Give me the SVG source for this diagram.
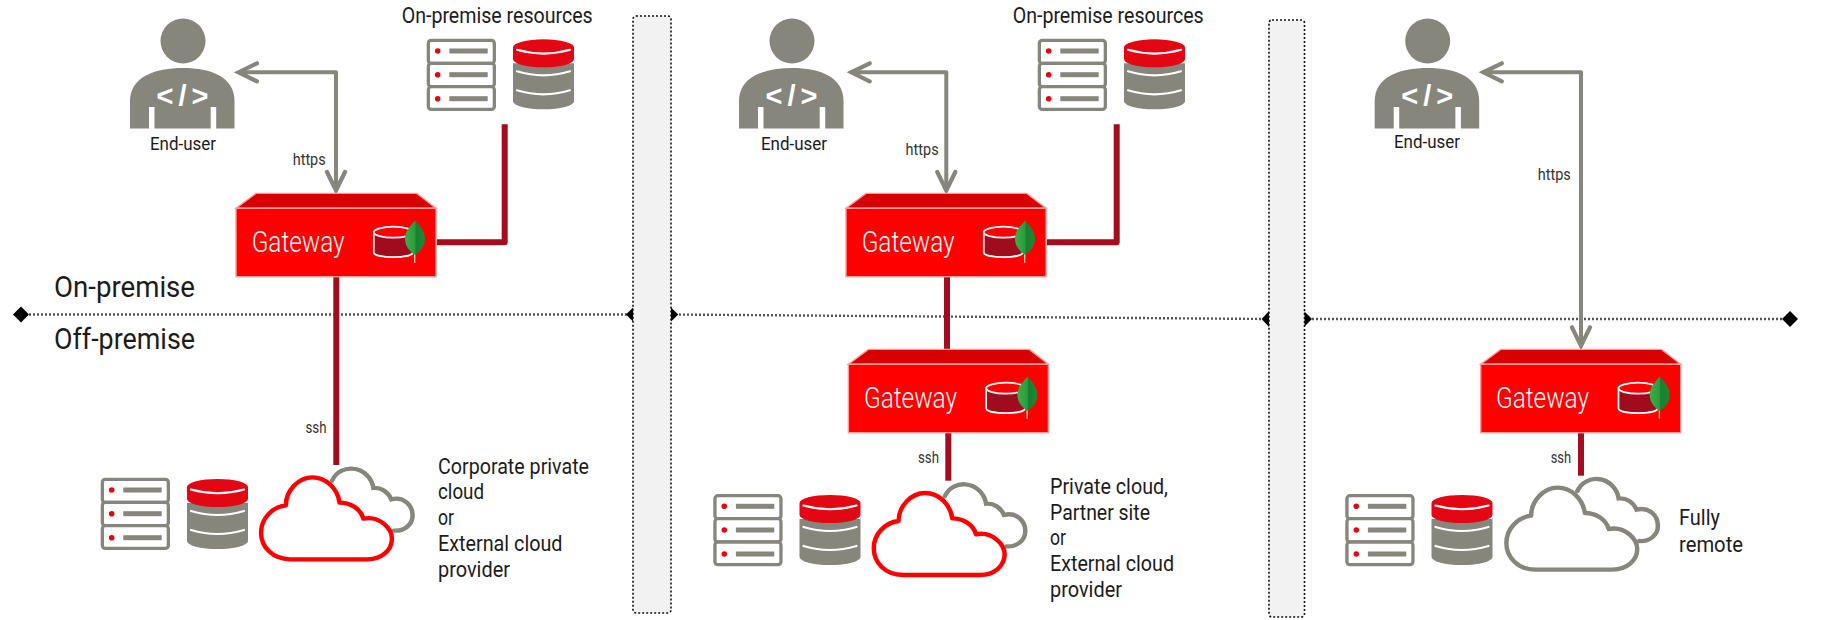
<svg xmlns="http://www.w3.org/2000/svg" width="1825" height="620" viewBox="0 0 1825 620">
<style>
text{font-family:Roboto,"Liberation Sans",sans-serif;font-weight:400;fill:#1c1c1c}
.lab{font-size:22px}
.small{font-size:18px}
.big{font-size:30px}
.proto{font-size:16px;fill:#333}
.gw{font-size:29px;fill:#fff;font-weight:300}
.code{font-family:"Liberation Sans",sans-serif;font-weight:700;font-size:29px;fill:#fff;text-anchor:middle;letter-spacing:5px}
.gray{fill:#86867c}
.arrow{fill:none;stroke:#86867c;stroke-width:4;stroke-linejoin:round;marker-start:url(#chev);marker-end:url(#chev)}
.wire{fill:none;stroke:#a30d1e;stroke-width:6;stroke-linejoin:round}
.div{fill:none;stroke:#555;stroke-width:2.400;stroke-dasharray:2 2}
.bar{fill:#f2f2f2;stroke:#111;stroke-width:1.6;stroke-dasharray:2 2}
.srow{fill:#fff;stroke:#86867c;stroke-width:3.3}
.cloudR{fill:#fff;stroke:#f00;stroke-width:13;stroke-linejoin:round}
.cloudG{fill:#fff;stroke:#86867c;stroke-width:13;stroke-linejoin:round}
.cloudB{fill:none;stroke:#86867c;stroke-width:13;stroke-linecap:round}
</style>
<defs>
<linearGradient id="leaf" x1="0" x2="1" y1="0" y2="0"><stop offset="0" stop-color="#3fae49"/><stop offset=".5" stop-color="#2a9a3e"/><stop offset=".55" stop-color="#178030"/><stop offset="1" stop-color="#1a8a34"/></linearGradient>
<marker id="chev" markerUnits="userSpaceOnUse" viewBox="-24 -13 27 26" refX="-2" refY="0" markerWidth="27" markerHeight="26" orient="auto-start-reverse"><path d="M-20 -9 L-1.5 0 L-20 9" fill="none" stroke="#86867c" stroke-width="4.2" stroke-linecap="round" stroke-linejoin="miter"/></marker>
<g id="person">
<circle cx="0" cy="0" r="22.5" class="gray"/>
<path class="gray" d="M-53 87.5 V60 C-53 36 -28 27 0 27 C28 27 51.500 36 51.500 60 V87.500 Z"/>
<rect x="-34" y="66" width="5.500" height="22" fill="#fff"/>
<rect x="27.700" y="66" width="5.500" height="22" fill="#fff"/>
</g>
<g id="servers">
<rect class="srow" x="1.650" y="1.700" width="66" height="23" rx="3"/>
<rect class="srow" x="1.650" y="24.700" width="66" height="23.300" rx="3"/>
<rect class="srow" x="1.650" y="48" width="66" height="22.700" rx="3"/>
<g fill="#e30613"><circle cx="11" cy="12.300" r="2.800"/><circle cx="11" cy="36" r="2.800"/><circle cx="11" cy="60" r="2.800"/></g>
<g class="gray"><rect x="22.600" y="9.800" width="38.400" height="5"/><rect x="22.600" y="33.500" width="38.400" height="5"/><rect x="22.600" y="57.500" width="38.400" height="5"/></g>
</g>
<g id="db">
<path class="gray" d="M0 24 V62 A30.500 8 0 0 0 61 62 V24 Z"/>
<path d="M4 32 Q30.500 40 57 32 M4 51 Q30.500 59 57 51" fill="none" stroke="#fff" stroke-width="2.200" stroke-linecap="round"/>
<path d="M0 8 A30.500 8 0 0 1 61 8 V20 A30.500 8 0 0 1 0 20 Z" fill="#e30613"/>
<path d="M4 10.500 Q30.500 18 57 10.500" fill="none" stroke="#fff" stroke-width="2.200" stroke-linecap="round"/>
</g>
<g id="box">
<path d="M.7 15.600 L20.700 .7 H181.500 L200.700 15.600 Z" fill="#d90000" stroke="#ff9a9a" stroke-width="1.400"/>
<rect x=".7" y="15.600" width="200" height="68.400" fill="#f00" stroke="#ff9a9a" stroke-width="1.400"/>
<path d="M138.500 39.500 V59.500 C138.500 66 177.500 66 177.500 59.500 V39.500 Z" fill="#a00c1e" stroke="#fff" stroke-width="1.700"/>
<ellipse cx="158" cy="39.500" rx="19.500" ry="5.500" fill="#f00" stroke="#fff" stroke-width="1.700"/>
<path d="M179.400 58 V70" stroke="#c9d8c0" stroke-width="1.300"/>
<path d="M179.700 28 C173 35 169.700 40 169.700 46 C169.700 54 175 59 179.700 62.300 C184.500 59 189.700 54 189.700 46 C189.700 40 186 34 179.700 28 Z" fill="url(#leaf)"/>
</g>
<g id="cloudback"><path class="cloudB" d="M212 16 C225 -12 250 -22 272 -20 C305 -18 328 10 332 38 C355 36 375 50 384 72 C420 62 446 90 446 120 C446 150 420 168 392 166"/></g>
<path id="cloudfront" d="M90 252 C40 252 6 215 6 172 C6 130 38 95 78 90 C78 45 115 6 155 6 C195 6 228 40 234 82 C265 82 295 100 303 130 C350 120 386 160 386 190 C386 225 355 252 315 252 Z"/>
</defs>

<g id="divider">
<path class="div" d="M21 314.500 H633"/>
<path class="div" d="M671 314.500 L1268 319"/>
<path class="div" d="M1304 319 H1790"/>
<path d="M21 306.500 L29 314.500 L21 322.500 L13 314.500 Z"/>
<path d="M634 306.500 L626 314.500 L634 322.500 Z"/>
<path d="M670 306.500 L678.300 314.500 L670 322.500 Z"/>
<path d="M1269 311 L1261.600 319 L1269 327 Z"/>
<path d="M1304 311 L1312 319 L1304 327 Z"/>
<path d="M1790 311 L1798 319 L1790 327 L1782 319 Z"/>
</g>

<g id="barrier-1"><rect class="bar" x="633" y="16" width="38" height="597" rx="3"/></g>
<g id="barrier-2"><rect class="bar" x="1269" y="20" width="35.500" height="597" rx="3"/></g>

<g id="connectors">
<path class="wire" d="M437 242.300 H504.700 V124.300"/>
<path class="wire" d="M336.300 277 V465"/>
<path class="wire" d="M1047 242.300 H1116.700 V124.300"/>
<path class="wire" d="M947 277 V349"/>
<path class="wire" d="M948.300 433 V480.700"/>
<path class="wire" d="M1581 433 V475.700"/>
<path class="arrow" d="M239 72.300 H336 V190"/>
<path class="arrow" d="M851.700 72.300 H946.300 V190"/>
<path class="arrow" d="M1483.800 72.300 H1581 V345.300"/>
</g>

<g id="zone-labels">
<text class="big" x="54" y="297" textLength="141" lengthAdjust="spacingAndGlyphs">On-premise</text>
<text class="big" x="54" y="348.500" textLength="141" lengthAdjust="spacingAndGlyphs">Off-premise</text>
</g>

<g id="end-user-1">
<use href="#person" x="183" y="41"/>
<text class="code" x="185" y="106">&lt;/&gt;</text>
<text class="small" x="150" y="150" textLength="66" lengthAdjust="spacingAndGlyphs">End-user</text>
</g>
<g id="end-user-2">
<use href="#person" x="792" y="41"/>
<text class="code" x="794" y="106">&lt;/&gt;</text>
<text class="small" x="761" y="150" textLength="66" lengthAdjust="spacingAndGlyphs">End-user</text>
</g>
<g id="end-user-3">
<use href="#person" x="1427.700" y="41"/>
<text class="code" x="1429.700" y="106">&lt;/&gt;</text>
<text class="small" x="1394" y="148" textLength="66" lengthAdjust="spacingAndGlyphs">End-user</text>
</g>

<g id="resources-1">
<text class="lab" x="401.700" y="23.300" textLength="191" lengthAdjust="spacingAndGlyphs">On-premise resources</text>
<use href="#servers" x="426.700" y="38.700"/>
<use href="#db" x="513" y="39.300"/>
</g>
<g id="resources-2">
<text class="lab" x="1012.700" y="23.300" textLength="191" lengthAdjust="spacingAndGlyphs">On-premise resources</text>
<use href="#servers" x="1037.700" y="38.700"/>
<use href="#db" x="1124" y="39.300"/>
</g>

<g id="gateway-1"><use href="#box" x="235.300" y="192.700"/><text class="gw" x="251.700" y="252" textLength="93" lengthAdjust="spacingAndGlyphs">Gateway</text></g>
<g id="gateway-2"><use href="#box" x="845.300" y="192.700"/><text class="gw" x="861.700" y="252" textLength="93" lengthAdjust="spacingAndGlyphs">Gateway</text></g>
<g id="gateway-3"><use href="#box" x="847.700" y="348.700"/><text class="gw" x="864" y="408" textLength="93" lengthAdjust="spacingAndGlyphs">Gateway</text></g>
<g id="gateway-4"><use href="#box" x="1480" y="348.700"/><text class="gw" x="1496" y="408" textLength="93" lengthAdjust="spacingAndGlyphs">Gateway</text></g>

<g id="protocol-labels">
<text class="proto" x="292.700" y="165" textLength="33" lengthAdjust="spacingAndGlyphs">https</text>
<text class="proto" x="905.600" y="155" textLength="33" lengthAdjust="spacingAndGlyphs">https</text>
<text class="proto" x="1537.800" y="180" textLength="33" lengthAdjust="spacingAndGlyphs">https</text>
<text class="proto" x="305.500" y="433.300" textLength="21" lengthAdjust="spacingAndGlyphs">ssh</text>
<text class="proto" x="918" y="463.300" textLength="21" lengthAdjust="spacingAndGlyphs">ssh</text>
<text class="proto" x="1550.700" y="462.700" textLength="20.500" lengthAdjust="spacingAndGlyphs">ssh</text>
</g>

<g id="site-1">
<use href="#servers" x="100.700" y="477.700"/>
<use href="#db" x="187" y="479"/>
<g transform="translate(259 475.300) scale(.3444 .3333)"><use href="#cloudback"/><use href="#cloudfront" class="cloudR"/></g>
<text class="lab" x="438" y="474" textLength="151" lengthAdjust="spacingAndGlyphs">Corporate private</text>
<text class="lab" x="438" y="499.300" textLength="46" lengthAdjust="spacingAndGlyphs">cloud</text>
<text class="lab" x="438" y="525" textLength="16" lengthAdjust="spacingAndGlyphs">or</text>
<text class="lab" x="438" y="550.700" textLength="124.500" lengthAdjust="spacingAndGlyphs">External cloud</text>
<text class="lab" x="438" y="576.700" textLength="72" lengthAdjust="spacingAndGlyphs">provider</text>
</g>
<g id="site-2">
<use href="#servers" x="713.300" y="494"/>
<use href="#db" x="799.500" y="495"/>
<g transform="translate(871.700 491) scale(.3444 .3333)"><use href="#cloudback"/><use href="#cloudfront" class="cloudR"/></g>
<text class="lab" x="1050" y="494" textLength="118" lengthAdjust="spacingAndGlyphs">Private cloud,</text>
<text class="lab" x="1050" y="520" textLength="100" lengthAdjust="spacingAndGlyphs">Partner site</text>
<text class="lab" x="1050" y="545" textLength="16" lengthAdjust="spacingAndGlyphs">or</text>
<text class="lab" x="1050" y="571" textLength="124" lengthAdjust="spacingAndGlyphs">External cloud</text>
<text class="lab" x="1050" y="596.700" textLength="72" lengthAdjust="spacingAndGlyphs">provider</text>
</g>
<g id="site-3">
<use href="#servers" x="1345.300" y="494"/>
<use href="#db" x="1431.500" y="495"/>
<g transform="translate(1504.300 485.700) scale(.3444 .3333)"><use href="#cloudback"/><use href="#cloudfront" class="cloudG"/></g>
<text class="lab" x="1679" y="525" textLength="41" lengthAdjust="spacingAndGlyphs">Fully</text>
<text class="lab" x="1679" y="551.700" textLength="64" lengthAdjust="spacingAndGlyphs">remote</text>
</g>
</svg>
